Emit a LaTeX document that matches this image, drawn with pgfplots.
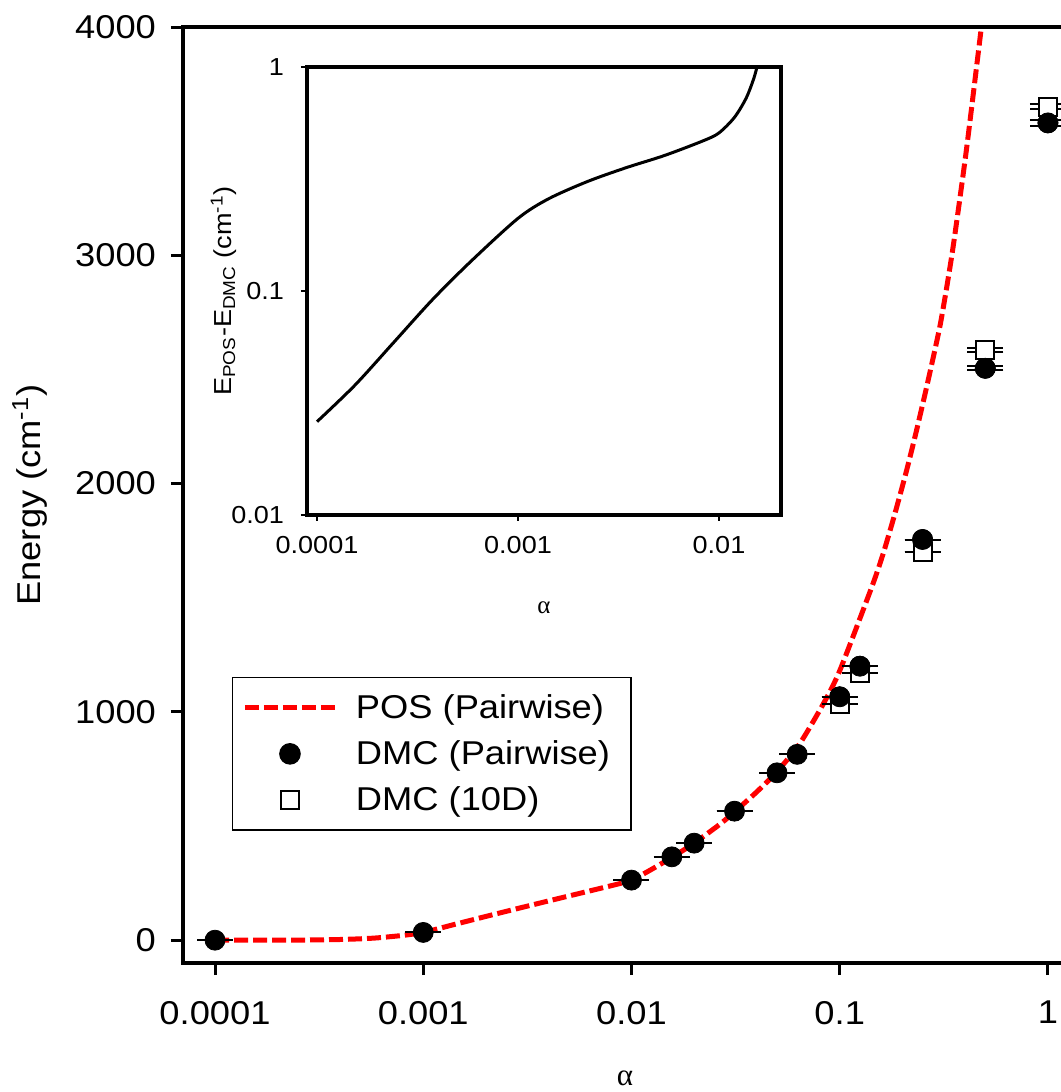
\documentclass[border=0pt]{standalone}
\usepackage{fontspec}
\setmainfont{Liberation Sans}[FakeStretch=1.1]
\newfontfamily\greekfont{Liberation Serif}
\usepackage{pgfplots}
\pgfplotsset{compat=1.18}
\pgfplotsset{
  lineleg/.style={legend image code/.code={\draw[##1] (0pt,0pt) -- (45pt,0pt); \path[draw=none,fill=none] (0pt,0pt) (50pt,0pt);}},
  markleg/.style={legend image code/.code={\draw[##1, only marks] plot coordinates {(22.5pt,0pt)}; \path[draw=none,fill=none] (0pt,0pt) (50pt,0pt);}},
}
\begin{document}
\begin{tikzpicture}
\begin{axis}[
  at={(0pt,0pt)}, anchor=south west,
  scale only axis, width=453.3pt, height=468pt,
  xmode=log, xmin=7.018e-5, xmax=1.585,
  ymin=-100, ymax=4000,
  xtick={1e-4,1e-3,1e-2,1e-1,1},
  xticklabels={0.0001,0.001,0.01,0.1,1},
  ytick={0,1000,2000,3000,4000},
  yticklabels={0,1000,2000,3000,4000},
  xminorticks=false, yminorticks=false,
  tick align=outside, tick pos=left,
  major tick length=6pt,
  axis line style={line width=1.8pt},
  tick style={line width=1.5pt, black},
  tick label style={font=\fontsize{16.5}{19}\selectfont},
  xticklabel style={yshift=-9.5pt},
  yticklabel style={xshift=-4pt},
  xlabel={\greekfont α},
  xlabel style={at={(axis description cs:0.4875,-0.1229)}, anchor=center, font=\fontsize{15.5}{18}\selectfont},
  ylabel={Energy (cm\textsuperscript{-1})},
  ylabel style={at={(axis description cs:-0.1688,0.5)}, anchor=center, font=\fontsize{16.5}{19}\selectfont},
  legend cell align=left,
  legend style={at={(axis description cs:0.0537,0.3059)}, anchor=north west,
    draw=black, line width=0.8pt, inner xsep=5pt, inner ysep=8.5pt,
    row sep=9.5pt,
    font=\fontsize{16.5}{19}\selectfont,
    nodes={inner ysep=0pt, inner xsep=5.5pt}},
]
% POS (Pairwise)
\addplot[red, line width=2.5pt, dash pattern=on 7pt off 2.5pt, smooth, tension=0.4, lineleg]
coordinates {
(0.0001,0) (0.0002,0.3) (0.0003,1) (0.0004,3) (0.0005,6) (0.0006,10)
(0.0008,21) (0.001,34) (0.0014,68) (0.002,104) (0.003,144) (0.004,172)
(0.006,211) (0.0088,248) (0.01,263) (0.0113,288) (0.0127,314) (0.0158,365)
(0.02,425) (0.0266,508) (0.03125,562) (0.04,650) (0.05,738) (0.0644,862)
(0.0834,1035) (0.1,1180) (0.1423,1545) (0.1618,1694) (0.1842,1869)
(0.2097,2059) (0.234,2234) (0.266,2453) (0.303,2690) (0.332,2900)
(0.356,3080) (0.407,3470) (0.48,4007)
};
\addlegendentry{POS (Pairwise)}
% DMC (Pairwise)
\addplot[only marks, mark=*, mark size=5pt, black, markleg,
  error bars/.cd, y dir=both, y explicit, error mark=|,
  error bar style={line width=1pt, black},
  error mark options={line width=1pt, mark size=9pt, black}]
table[x=x, y=y, y error=e] {
x y e
0.0001 0 0
0.001 34 0
0.01 263 0
0.015625 365 0
0.02 425 0
0.03125 565 0
0.05 733 0
0.0625 814 0
0.1 1066 0
0.125 1200 0
0.25 1755 0
0.5 2505 9
1 3580 12
};
\addlegendentry{DMC (Pairwise)}
% DMC (10D)
\addplot[only marks, mark=square*, mark size=4.5pt, black,
  mark options={fill=white, draw=black, line width=1pt}, markleg,
  error bars/.cd, y dir=both, y explicit, error mark=|,
  error bar style={line width=1pt, black},
  error mark options={line width=1pt, mark size=9pt, black}]
table[x=x, y=y, y error=e] {
x y e
0.1 1035 0
0.125 1170 0
0.25 1700 0
0.5 2585 10
1 3651 12
};
\addlegendentry{DMC (10D)}
% circles again on top of squares
\addplot[forget plot, only marks, mark=*, mark size=5pt, black]
table[x=x, y=y] {
x y
0.1 1066
0.125 1200
0.25 1755
0.5 2505
1 3580
};
\end{axis}
\begin{axis}[
  at={(62pt,224pt)}, anchor=south west,
  scale only axis, width=237pt, height=224pt,
  xmode=log, ymode=log,
  xmin=8.916e-5, xmax=0.02035, ymin=0.01, ymax=1,
  xtick={1e-4,1e-3,1e-2}, xticklabels={0.0001,0.001,0.01},
  ytick={0.01,0.1,1}, yticklabels={0.01,0.1,1},
  xminorticks=false, yminorticks=false,
  tick align=outside, tick pos=left,
  major tick length=3pt,
  axis line style={line width=1.6pt},
  tick style={line width=1pt, black},
  axis background/.style={fill=white},
  tick label style={font=\fontsize{12.3}{14}\selectfont},
  xticklabel style={yshift=-4pt},
  yticklabel style={xshift=-5pt},
  xlabel={\greekfont α},
  xlabel style={at={(axis description cs:0.5,-0.2076)}, anchor=center, font=\fontsize{12.5}{15}\selectfont},
  ylabel={E\textsubscript{POS}-E\textsubscript{DMC} (cm\textsuperscript{-1})},
  ylabel style={at={(axis description cs:-0.176,0.5)}, anchor=center, font=\fontsize{12.3}{14}\selectfont},
]
\addplot[black, line width=1.5pt, smooth] coordinates {
(1.0e-4,0.0261) (1.545e-4,0.0380) (2.410e-4,0.0590) (3.750e-4,0.0914)
(5.848e-4,0.136) (1.0e-3,0.211) (1.419e-3,0.258) (2.213e-3,0.308)
(3.443e-3,0.355) (5.370e-3,0.403) (8.375e-3,0.469) (1.0e-2,0.508)
(1.194e-2,0.596) (1.365e-2,0.726) (1.489e-2,0.887) (1.545e-2,1.0)
};
\end{axis}
\pgfresetboundingbox
\path[use as bounding box] (-91.5pt,-64.5pt) rectangle (438.5pt,481.5pt);
\end{tikzpicture}
\end{document}
